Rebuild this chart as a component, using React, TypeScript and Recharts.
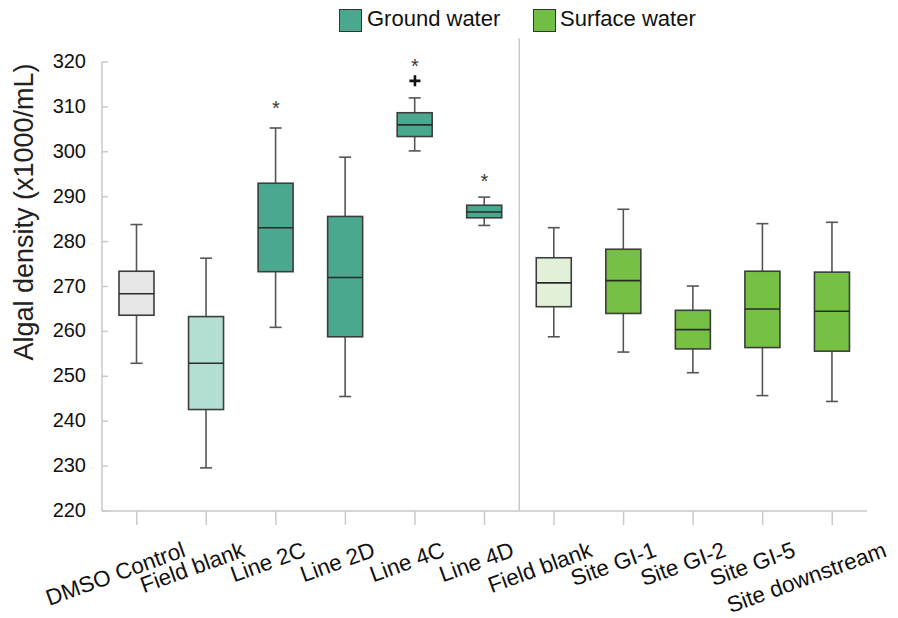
import React from 'react';
import { ComposedChart, Bar, XAxis, YAxis, Scatter, ReferenceLine, Legend } from 'recharts';

// ---------- data ----------
const categories = ['DMSO Control', 'Field blank', 'Line 2C', 'Line 2D', 'Line 4C', 'Line 4D', 'Field blank', 'Site GI-1', 'Site GI-2', 'Site GI-5', 'Site downstream'];
const groups = ['control', 'gwBlank', 'gw', 'gw', 'gw', 'gw', 'swBlank', 'sw', 'sw', 'sw', 'sw'];
const whiskerLow = [252.9, 229.6, 260.9, 245.5, 300.2, 283.6, 258.8, 255.4, 250.8, 245.7, 244.4];
const q1 = [263.6, 242.6, 273.3, 258.8, 303.4, 285.3, 265.5, 264.0, 256.1, 256.4, 255.6];
const median = [268.4, 252.9, 283.1, 272.0, 306.0, 286.6, 270.8, 271.3, 260.4, 265.0, 264.5];
const q3 = [273.4, 263.3, 293.0, 285.6, 308.7, 288.1, 276.4, 278.3, 264.7, 273.4, 273.2];
const whiskerHigh = [283.8, 276.3, 305.3, 298.8, 312.0, 289.9, 283.1, 287.2, 270.1, 284.0, 284.3];
const starIndex = [2, 4, 5];
const starValues = [310.6, 319.9, 294.4];
const outlierIndex = [4];
const outlierValues = [315.8];
const yTicks = [220, 230, 240, 250, 260, 270, 280, 290, 300, 310, 320];
const legendLabels = ['Ground water', 'Surface water'];
const dividerBeforeIndex = 6; // first surface-water category

// ---------- styles ----------
const FONT = '"Liberation Sans", Arial, sans-serif';
const fills: Record<string, string> = {
  control: '#e6e6e6',
  gwBlank: '#b3dfd3',
  gw: '#4aa88e',
  swBlank: '#e2f0d9',
  sw: '#76c043',
};
const AXIS = '#c9c9c9';
const BOX_STROKE = '#3d3d3d';
const WHISKER = '#555555';

const keys = categories.map((_, i) => 'c' + i);
const data = categories.map((name, i) => ({
  key: keys[i],
  name,
  group: groups[i],
  range: [whiskerLow[i], whiskerHigh[i]],
  q1: q1[i],
  median: median[i],
  q3: q3[i],
}));
const starData = starIndex.map((idx, i) => ({ key: keys[idx], v: starValues[i] }));
const outlierData = outlierIndex.map((idx, i) => ({ key: keys[idx], v: outlierValues[i] }));

let measureCtx: CanvasRenderingContext2D | null = null;
function measureText(text: string, font: string): number {
  if (!measureCtx) {
    const c = document.createElement('canvas');
    measureCtx = c.getContext('2d');
  }
  if (!measureCtx) return text.length * 10;
  measureCtx.font = font;
  return measureCtx.measureText(text).width;
}

const BoxShape = (props: any) => {
  const { x, y, width, height, payload } = props;
  if (x == null || y == null || !payload) return null;
  const lo = payload.range[0];
  const hi = payload.range[1];
  const toY = (v: number) => y + ((hi - v) / (hi - lo)) * height;
  const cx = x + width / 2;
  const yQ3 = toY(payload.q3);
  const yQ1 = toY(payload.q1);
  const yMed = toY(payload.median);
  const yLow = y + height;
  const cap = 6;
  return (
    <g>
      <line x1={cx} x2={cx} y1={y} y2={yQ3} stroke={WHISKER} strokeWidth={1.6} />
      <line x1={cx} x2={cx} y1={yQ1} y2={yLow} stroke={WHISKER} strokeWidth={1.6} />
      <line x1={cx - cap} x2={cx + cap} y1={y} y2={y} stroke={WHISKER} strokeWidth={1.6} />
      <line x1={cx - cap} x2={cx + cap} y1={yLow} y2={yLow} stroke={WHISKER} strokeWidth={1.6} />
      <rect x={x} y={yQ3} width={width} height={yQ1 - yQ3} fill={fills[payload.group]} stroke={BOX_STROKE} strokeWidth={1.6} />
      <line x1={x} x2={x + width} y1={yMed} y2={yMed} stroke="#2b2b2b" strokeWidth={1.6} />
    </g>
  );
};

const StarShape = (p: any) => (
  <text x={p.cx} y={p.cy + 11} textAnchor="middle" fontSize={20} fontFamily={FONT} fill="#3a3a3a">*</text>
);

const PlusShape = (p: any) => (
  <path d={`M${p.cx - 5.5},${p.cy} L${p.cx + 5.5},${p.cy} M${p.cx},${p.cy - 5.5} L${p.cx},${p.cy + 5.5}`} stroke="#111" strokeWidth={2.6} fill="none" />
);

const XFS = 22.5;
const XTick = (props: any) => {
  const { x, y, payload } = props;
  const idx = keys.indexOf(payload.value);
  const label = idx >= 0 ? categories[idx] : String(payload.value);
  const w = measureText(label, `${XFS}px ${FONT}`);
  const ext = w * Math.cos((20 * Math.PI) / 180);
  const ex = x + 10 + 0.29 * ext;
  const ey = y + 31;
  return (
    <text x={ex} y={ey} textAnchor="end" transform={`rotate(-20, ${ex}, ${ey})`} fontSize={XFS} fontFamily={FONT} fill="#111">
      {label}
    </text>
  );
};

const YTick = (props: any) => {
  const { x, y, payload } = props;
  return (
    <g>
      <line x1={x + 16} x2={x + 22} y1={y} y2={y} stroke={AXIS} strokeWidth={1.5} />
      <text x={x} y={y + 6} textAnchor="end" fontSize={20} fontFamily={FONT} fill="#111">{payload.value}</text>
    </g>
  );
};

const YLabel = () => (
  <text x={25} y={204} transform="rotate(-90, 25, 204)" textAnchor="middle" fontSize={27} fontFamily={FONT} fill="#222">
    Algal density (x1000/mL)
  </text>
);

const swatch = (left: number, color: string): React.CSSProperties => ({
  position: 'absolute', left, top: 1, width: 21, height: 21, background: color, border: '1.5px solid #333', boxSizing: 'content-box',
});
const legendText = (left: number): React.CSSProperties => ({
  position: 'absolute', left, top: -2, fontSize: 22, lineHeight: '26px', fontFamily: FONT, color: '#111', whiteSpace: 'nowrap',
});

const LegendContent = () => (
  <div style={{ position: 'relative', width: 890, height: 40 }}>
    <div style={swatch(331, fills.gw)} />
    <span style={legendText(359)}>{legendLabels[0]}</span>
    <div style={swatch(525, '#70bf44')} />
    <span style={legendText(552)}>{legendLabels[1]}</span>
  </div>
);

export default function App() {
  return (
    <ComposedChart width={890} height={610} data={data} margin={{ top: 54, right: 31, bottom: 77, left: 34 }}>
      <Legend
        layout="horizontal"
        verticalAlign="middle"
        align="center"
        content={<LegendContent />}
        wrapperStyle={{ top: 0, left: 0, width: 890, height: 40 }}
      />
      <XAxis
        dataKey="key"
        type="category"
        allowDuplicatedCategory={false}
        interval={0}
        height={30}
        tickSize={14}
        tickMargin={0}
        axisLine={{ stroke: AXIS, strokeWidth: 1.5 }}
        tickLine={{ stroke: AXIS, strokeWidth: 1.5 }}
        tick={<XTick />}
      />
      <YAxis
        type="number"
        domain={[220, 320]}
        ticks={yTicks}
        interval={0}
        width={60}
        tickSize={0}
        tickMargin={16}
        axisLine={{ stroke: AXIS, strokeWidth: 1.5 }}
        tickLine={false}
        tick={<YTick />}
        label={<YLabel />}
      />
      <ReferenceLine
        segment={[{ x: keys[dividerBeforeIndex], y: 220 }, { x: keys[dividerBeforeIndex], y: 325.3 }]}
        position="start"
        stroke={AXIS}
        strokeWidth={1.5}
        ifOverflow="visible"
      />
      <Bar dataKey="range" barSize={35} shape={<BoxShape />} isAnimationActive={false} />
      <Scatter data={starData} dataKey="v" shape={<StarShape />} isAnimationActive={false} />
      <Scatter data={outlierData} dataKey="v" shape={<PlusShape />} isAnimationActive={false} />
    </ComposedChart>
  );
}
